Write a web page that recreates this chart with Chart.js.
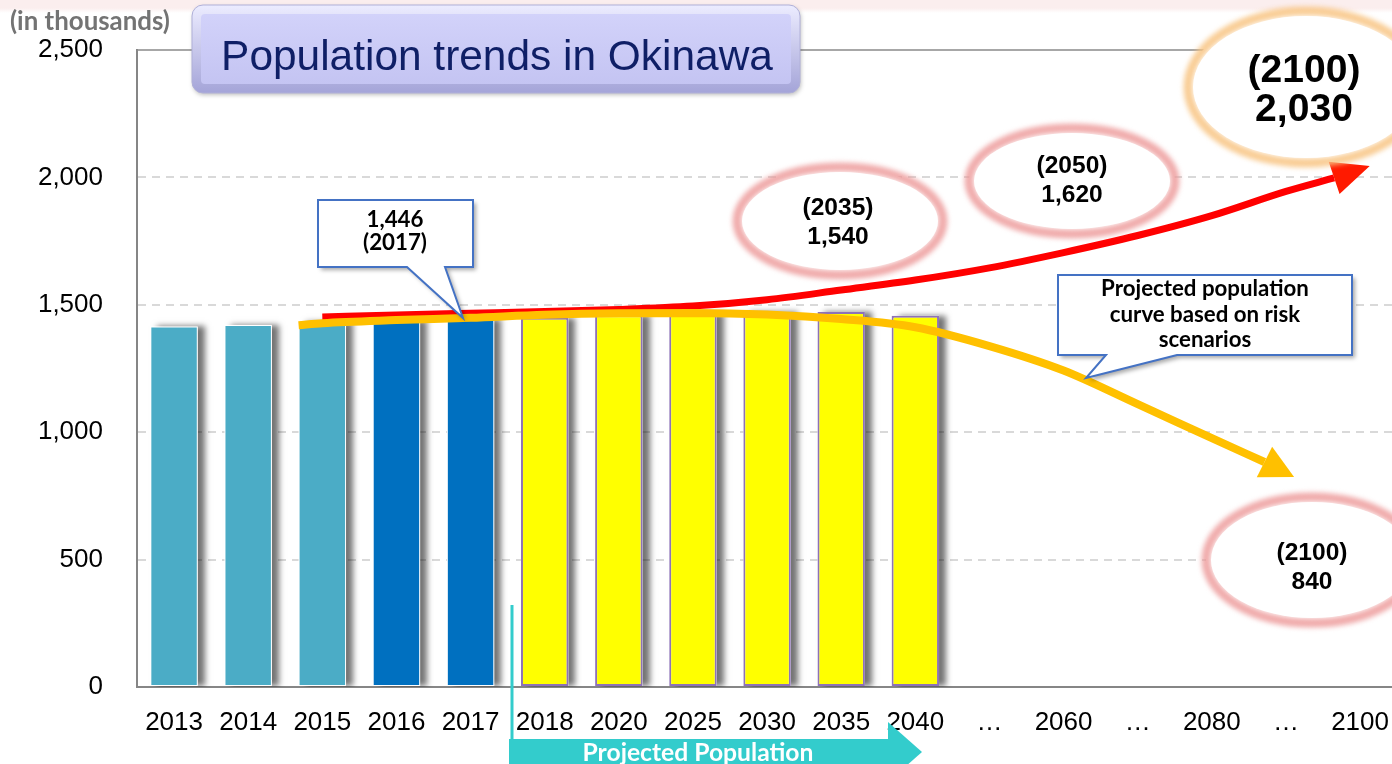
<!DOCTYPE html>
<html><head><meta charset="utf-8">
<script src="https://cdn.jsdelivr.net/npm/chart.js@4"></script>
<style>
html,body{margin:0;padding:0;overflow:hidden;width:1392px;height:764px;
 background:linear-gradient(#fbeeee 0px,#fbeeee 8px,#ffffff 13px,#ffffff 100%);}
#wrap{position:absolute;left:0;top:0;width:1409px;height:764px;}
</style></head><body>
<div id="wrap"><canvas id="c"></canvas></div>
<script>
// ---- data ----
const categories = ['2013','2014','2015','2016','2017','2018','2020','2025','2030','2035','2040','…','2060','…','2080','…','2100'];
const yTicks = [0, 500, 1000, 1500, 2000, 2500];
const population = [1415,1421,1434,1439,1446,1449,1459,1466,1472,1472,1457,null,null,null,null,null,null];
const lastActualIndex = 4;      // 2017
const firstProjectedIndex = 5;  // 2018
// growth scenario curve (red): positions on category index, values in thousands
const growthIdx = [2, 3, 4, 5, 6, 7, 8, 9, 10, 11, 12, 13, 14, 15, 15.65];
const growthVal = [1452,1460,1467,1474,1482,1495,1520,1558,1597,1645,1705,1772,1850,1945,1998];
const growthTip = [16.13, 2045];
// risk scenario curve (orange)
const riskIdx = [1.68, 2, 3, 4, 5, 6, 7, 8, 9, 10, 11, 12, 13, 14, 14.71];
const riskVal = [1420,1428,1440,1449,1461,1467,1468,1462,1444,1412,1338,1242,1110,977,883];
const riskTip = [15.11, 824];

const fmt = v => v.toLocaleString('en-US');

function fitSize(ctx, text, width, weight, family){
  ctx.font = weight + ' 100px ' + family;
  return 100 * width / ctx.measureText(text).width;
}

// soft drop shadow to the right of each bar, drawn before the bars
const shadowPlugin = {
  id:'barShadow',
  beforeDatasetDraw(chart, args){
    if(args.meta.type !== 'bar') return;
    const c = chart.ctx;
    c.save();
    c.beginPath(); c.rect(chart.chartArea.left, chart.chartArea.top, chart.chartArea.width, chart.chartArea.height); c.clip();
    c.shadowColor = 'rgba(0,0,0,0.55)'; c.shadowOffsetX = 7; c.shadowOffsetY = 0; c.shadowBlur = 6;
    c.fillStyle = '#ffffff';
    args.meta.data.forEach(el => {
      if(el.skip || isNaN(el.y)) return;
      const w = el.width;
      c.fillRect(el.x - w/2, el.y, w, el.base - el.y);
    });
    c.restore();
  }
};

const arrowPlugin = {
  id:'arrowHeads',
  afterDatasetsDraw(chart){
    const c = chart.ctx, xs = chart.scales.xl, ys = chart.scales.y;
    const heads = [[1, growthTip, '#ff1a00', 17],[0, riskTip, '#FFC000', 17]];
    heads.forEach(([di, tip, col, hw])=>{
      const pts = chart.getDatasetMeta(di).data;
      const b = pts[pts.length-1];
      const tx = xs.getPixelForValue(tip[0]), ty = ys.getPixelForValue(tip[1]);
      let dx = tx - b.x, dy = ty - b.y; const L = Math.hypot(dx,dy); dx/=L; dy/=L;
      c.save(); c.fillStyle = col; c.beginPath();
      c.moveTo(b.x - dy*hw, b.y + dx*hw); c.lineTo(tx, ty); c.lineTo(b.x + dy*hw, b.y - dx*hw);
      c.closePath(); c.fill(); c.restore();
    });
  }
};

function glowEllipse(c, cx, cy, rx, ry, col){
  c.save();
  c.beginPath(); c.ellipse(cx, cy, rx, ry, 0, 0, Math.PI*2);
  c.fillStyle = '#fff'; c.fill();
  c.filter = 'blur(2.5px)';
  c.lineWidth = 9; c.strokeStyle = col; c.stroke();
  c.filter = 'none';
  c.beginPath(); c.ellipse(cx, cy, rx - 5, ry - 5, 0, 0, Math.PI*2);
  c.fillStyle = '#fff'; c.fill();
  c.restore();
}

function calloutPath(c, pts){
  c.beginPath(); c.moveTo(pts[0][0], pts[0][1]);
  for(let i=1;i<pts.length;i++) c.lineTo(pts[i][0], pts[i][1]);
  c.closePath();
}

const decoPlugin = {
  id:'deco',
  afterDraw(chart){
    const c = chart.ctx, a = chart.chartArea;
    // top frame line
    c.save(); c.strokeStyle = '#8a8a8a'; c.lineWidth = 1.5;
    c.beginPath(); c.moveTo(a.left, a.top); c.lineTo(a.right, a.top); c.stroke(); c.restore();

    // "(in thousands)"
    c.save();
    let s = fitSize(c, '(in thousands)', 160, 'bold', 'Lato');
    c.font = 'bold ' + s + 'px Lato'; c.fillStyle = '#737373'; c.textBaseline = 'middle'; c.textAlign = 'left';
    c.fillText('(in thousands)', 10, 22);
    c.restore();

    // title box
    c.save();
    c.shadowColor = 'rgba(0,0,0,0.25)'; c.shadowBlur = 4; c.shadowOffsetX = 1; c.shadowOffsetY = 2;
    let g = c.createLinearGradient(0, 5, 0, 93);
    g.addColorStop(0, '#ececff'); g.addColorStop(1, '#a4a4d8');
    c.fillStyle = g; c.beginPath(); c.roundRect(192, 5, 608, 88, 11); c.fill();
    c.shadowColor = 'transparent';
    c.strokeStyle = '#b0b0d8'; c.lineWidth = 1; c.stroke();
    g = c.createLinearGradient(0, 14, 0, 84);
    g.addColorStop(0, '#d2d2fa'); g.addColorStop(1, '#c4c4f2');
    c.fillStyle = g; c.beginPath(); c.roundRect(201, 14, 590, 70, 4); c.fill();
    s = fitSize(c, 'Population trends in Okinawa', 552, 'normal', '"Liberation Sans"');
    c.font = s + 'px "Liberation Sans"'; c.fillStyle = '#0f1f66'; c.textAlign = 'center'; c.textBaseline = 'middle';
    c.fillText('Population trends in Okinawa', 497, 58);
    c.restore();

    // ellipses
    const pink = 'rgba(236,150,150,0.8)';
    glowEllipse(c, 840, 221, 103, 54, pink);
    glowEllipse(c, 1072, 181, 103, 53, pink);
    glowEllipse(c, 1306, 87, 118, 76, 'rgba(248,196,130,0.85)');
    glowEllipse(c, 1312, 560, 106, 63, pink);
    c.save(); c.fillStyle = '#000'; c.textAlign = 'center'; c.textBaseline = 'middle';
    s = fitSize(c, '(2035)', 71, 'bold', '"Liberation Sans"');
    c.font = 'bold ' + s + 'px "Liberation Sans"';
    c.fillText('(2035)', 838, 208); c.fillText(fmt(1540), 838, 237);
    c.fillText('(2050)', 1072, 166); c.fillText(fmt(1620), 1072, 195);
    c.fillText('(2100)', 1312, 553); c.fillText(fmt(840), 1312, 582);
    s = fitSize(c, '(2100)', 113, 'bold', '"Liberation Sans"');
    c.font = 'bold ' + s + 'px "Liberation Sans"';
    c.fillText('(2100)', 1304, 71); c.fillText(fmt(2030), 1304, 110);
    c.restore();

    // callout: 1,446 (2017)
    c.save();
    c.shadowColor = 'rgba(0,0,0,0.35)'; c.shadowBlur = 4; c.shadowOffsetX = 3; c.shadowOffsetY = 3;
    calloutPath(c, [[318,200],[473,200],[473,267],[445,267],[463,318],[407,267],[318,267]]);
    c.fillStyle = '#fff'; c.fill();
    c.shadowColor = 'transparent';
    c.strokeStyle = '#4472C4'; c.lineWidth = 2; c.stroke();
    s = fitSize(c, '(2017)', 64, 'bold', 'Lato');
    c.font = 'bold ' + s + 'px Lato'; c.fillStyle = '#000'; c.textAlign = 'center'; c.textBaseline = 'middle';
    c.fillText(fmt(population[lastActualIndex]), 395, 220);
    c.fillText('(' + categories[lastActualIndex] + ')', 395, 243);
    c.restore();

    // callout: risk scenario
    c.save();
    c.shadowColor = 'rgba(0,0,0,0.35)'; c.shadowBlur = 4; c.shadowOffsetX = 3; c.shadowOffsetY = 3;
    calloutPath(c, [[1058,275],[1352,275],[1352,355],[1177,355],[1086,378],[1106,355],[1058,355]]);
    c.fillStyle = '#fff'; c.fill();
    c.shadowColor = 'transparent';
    c.strokeStyle = '#4472C4'; c.lineWidth = 2; c.stroke();
    s = fitSize(c, 'Projected population', 208, 'bold', 'Lato');
    c.font = 'bold ' + s + 'px Lato'; c.fillStyle = '#000'; c.textAlign = 'center'; c.textBaseline = 'middle';
    c.fillText('Projected population', 1205, 289);
    c.fillText('curve based on risk', 1205, 315);
    c.fillText('scenarios', 1205, 340);
    c.restore();

    // projected population arrow
    c.save();
    c.strokeStyle = '#33CCCC'; c.lineWidth = 3;
    c.beginPath(); c.moveTo(512, 605); c.lineTo(512, 742); c.stroke();
    c.fillStyle = '#33CCCC';
    c.fillRect(509, 739, 381, 30);
    c.beginPath(); c.moveTo(888, 722); c.lineTo(922, 752); c.lineTo(888, 782); c.closePath(); c.fill();
    s = fitSize(c, 'Projected Population', 231, 'bold', 'Lato');
    c.font = 'bold ' + s + 'px Lato'; c.fillStyle = '#fff'; c.textAlign = 'center'; c.textBaseline = 'middle';
    c.fillText('Projected Population', 698, 753);
    c.restore();
  }
};

const ctx = document.getElementById('c');
new Chart(ctx, {
  type:'bar',
  data:{
    labels: categories,
    datasets:[
      { type:'line', label:'Risk scenario', xAxisID:'xl', yAxisID:'y', order:0,
        data: riskIdx.map((x,i)=>({x, y:riskVal[i]})),
        borderColor:'#FFC000', borderWidth:8, pointRadius:0, cubicInterpolationMode:'monotone', fill:false, borderCapStyle:'butt' },
      { type:'line', label:'Growth scenario', xAxisID:'xl', yAxisID:'y', order:1,
        data: growthIdx.map((x,i)=>({x, y:growthVal[i]})),
        borderColor:'#ff0000', borderWidth:7, pointRadius:0, cubicInterpolationMode:'monotone', fill:false, borderCapStyle:'butt' },
      { type:'bar', label:'Population', order:2, xAxisID:'x', yAxisID:'y',
        data: population, grouped:false,
        backgroundColor: c => c.dataIndex < 3 ? '#4BACC6' : (c.dataIndex <= lastActualIndex ? '#0070C0' : '#FFFF00'),
        borderColor: c => c.dataIndex >= firstProjectedIndex ? '#8E72B8' : 'rgba(255,255,255,0.6)',
        borderWidth: c => c.dataIndex >= firstProjectedIndex ? 2 : 1,
        borderSkipped:false,
        barPercentage:0.64, categoryPercentage:1 }
    ]
  },
  options:{
    responsive:true, maintainAspectRatio:false, animation:false,
    layout:{padding:{top:50,left:0,right:0,bottom:0}},
    plugins:{legend:{display:false}, tooltip:{enabled:false}, title:{display:false}},
    scales:{
      x:{ type:'category', position:'bottom',
        grid:{display:false, drawTicks:false},
        border:{display:true, color:'#868686', width:2},
        ticks:{color:'#000', font:{family:'"Liberation Sans"', size:26}, padding:20, autoSkip:false, maxRotation:0},
        afterFit(s){ s.height = 77; } },
      xl:{ type:'linear', display:false, min:-0.5, max:16.5, offset:false, position:'bottom' },
      y:{ min:0, max:2500,
        afterBuildTicks(s){ s.ticks = yTicks.map(v=>({value:v})); },
        grid:{ drawTicks:false, lineWidth:2,
          color: c => (c.tick && (c.tick.value === 0 || c.tick.value === 2500)) ? 'rgba(0,0,0,0)' : '#d9d9d9' },
        border:{display:true, color:'#868686', width:2, dash:[8,6]},
        ticks:{ color:'#000', font:{family:'"Liberation Sans"', size:26}, padding:34, callback: v => fmt(v) },
        afterFit(s){ s.width = 137; } }
    }
  },
  plugins:[shadowPlugin, arrowPlugin, decoPlugin]
});
</script>
</body></html>
